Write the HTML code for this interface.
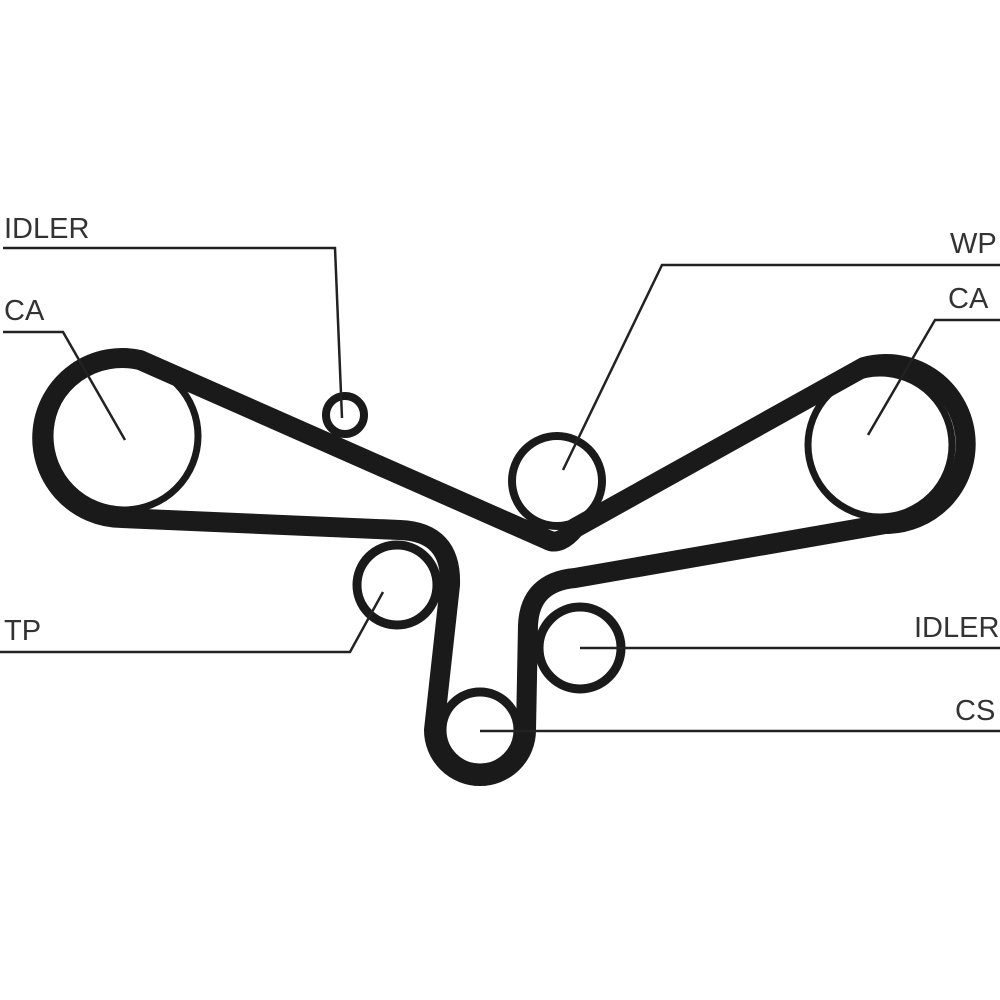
<!DOCTYPE html>
<html><head><style>
html,body{margin:0;padding:0;background:#fff;}
svg{display:block;}
text{font-family:"Liberation Sans",sans-serif;font-size:29px;fill:#333;}
</style></head><body>
<svg width="1000" height="1000" viewBox="0 0 1000 1000">
<g fill="none" stroke="#1a1a1a">
<!-- pulleys -->
<circle cx="124" cy="436" r="74" stroke-width="7"/>
<circle cx="880" cy="445" r="72" stroke-width="7"/>
<circle cx="345" cy="415" r="19" stroke-width="8"/>
<circle cx="557" cy="481" r="45" stroke-width="8"/>
<circle cx="397" cy="585" r="40" stroke-width="9"/>
<circle cx="480" cy="730" r="38" stroke-width="9"/>
<circle cx="580" cy="648" r="41" stroke-width="9"/>
<!-- belt -->
<path stroke-width="20" stroke-linejoin="round" d="M 548 540 L 140 360 A 80 80 0 1 0 122 518 L 400 530 Q 452 532 450 585 L 434 730 A 46 46 0 0 0 526 730 L 528 625 Q 530 582 575 578 L 885 524 A 80 80 0 1 0 864 367 L 575 528 Q 560 546 548 540 Z"/>
<!-- leader lines -->
<g stroke-width="2.5" stroke="#222">
<polyline points="3,248 335,248 342,418"/>
<polyline points="3,332 63,332 125,440"/>
<polyline points="0,652 350,652 383,592"/>
<polyline points="1000,265 662,265 563,470"/>
<polyline points="1000,320 935,320 868,435"/>
<line x1="1000" y1="648" x2="580" y2="648"/>
<line x1="1000" y1="731" x2="480" y2="731"/>
</g>
</g>
<text x="4" y="238">IDLER</text>
<text x="4" y="320">CA</text>
<text x="4" y="640">TP</text>
<text x="950" y="253">WP</text>
<text x="948" y="308">CA</text>
<text x="914" y="637">IDLER</text>
<text x="955" y="720">CS</text>
</svg>
</body></html>
